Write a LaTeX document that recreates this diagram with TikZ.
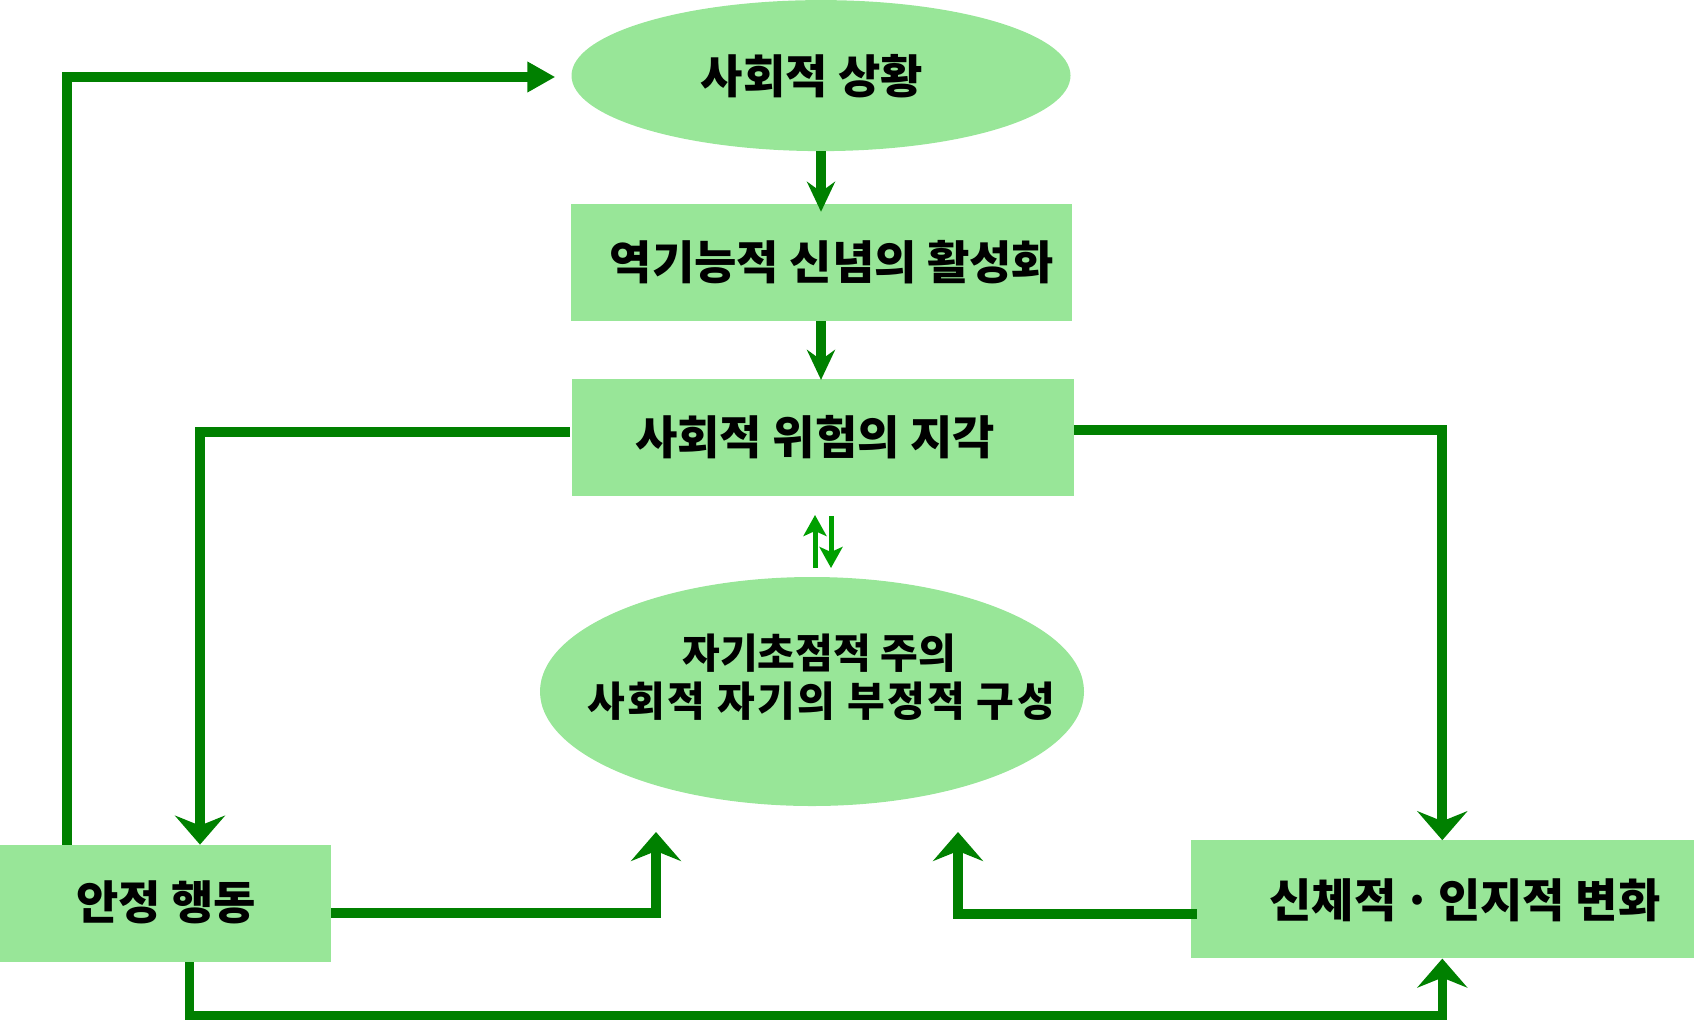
\documentclass[tikz,border=0pt]{standalone}
\usepackage{fontspec}
\setmainfont{Noto Sans CJK KR}
\usetikzlibrary{arrows.meta,shapes.geometric}
\definecolor{lg}{RGB}{152,230,152}
\definecolor{dg}{RGB}{0,128,0}
\definecolor{mg}{RGB}{0,160,0}
\tikzset{
  boxshape/.style={rectangle,fill=lg,draw=none,inner sep=0pt},
  ellshape/.style={ellipse,fill=lg,draw=none,inner sep=0pt},
  lbl/.style={inner sep=0pt,font=\fontsize{46}{54}\selectfont\bfseries},
  lbls/.style={inner sep=0pt,font=\fontsize{41}{48}\selectfont\bfseries},
  conn/.style={draw=dg,line width=10pt},
  bigtip/.style={-{Stealth[length=29pt,width=50pt,inset=10pt]}},
  smalltip/.style={-{Stealth[length=30pt,width=28pt,inset=10pt]}},
  tritip/.style={-{Triangle[length=28pt,width=29pt]}},
  dbl/.style={draw=mg,line width=5pt,-{Stealth[length=21pt,width=23pt,inset=5pt]}}
}
\begin{document}
\begin{tikzpicture}[x=1pt,y=-1pt]
\useasboundingbox (0,0) rectangle (1694,1021);
% shapes
\node[ellshape,minimum width=499pt,minimum height=151pt] (A) at (821,75.6) {};
\node[boxshape,minimum width=501pt,minimum height=117pt] (B) at (821,262.5) {};
\node[boxshape,minimum width=502pt,minimum height=117pt] (C) at (822.7,437.6) {};
\node[ellshape,minimum width=544pt,minimum height=229pt] (D) at (812,691.5) {};
\node[boxshape,minimum width=331pt,minimum height=117pt] (E) at (165.3,903.3) {};
\node[boxshape,minimum width=503pt,minimum height=118pt] (F) at (1442.3,899.4) {};
% texts
\node[lbl] (tA) at (812,76) {사회적 상황};
\node[lbl] (tB) at (832,262) {역기능적 신념의 활성화};
\node[lbl] (tC) at (815,437) {사회적 위험의 지각};
\node[lbls] (tD1) at (819,653) {자기초점적 주의};
\node[inner sep=0pt,font=\fontsize{41}{48}\selectfont\bfseries\addfontfeature{LetterSpace=6}] (tD2) at (821,701) {사회적 자기의 부정적 구성};
\node[lbl] (tE) at (166,902) {안정 행동};
\node[lbl] (tF) at (1465,900) {신체적\hspace{0.15em}·\hspace{0.15em}인지적 변화};
% helper coordinates
\coordinate (p6) at (656,832);
\coordinate (p7) at (958,832);
\coordinate (e8) at (189,1015.6);
\coordinate (u1) at (815,568);
\coordinate (u2) at (815,515);
\coordinate (d1) at (831,516);
\coordinate (d2) at (831,568);
% connectors
\draw[conn,tritip] ([xshift=-98.3pt]E.north) |- ([xshift=-16pt,yshift=-1.4pt]A.west);
\draw[conn,smalltip] (A.south) -- ([yshift=-8pt]B.north);
\draw[conn,smalltip] (B.south) -- ([yshift=-1pt]B.south |- C.north);
\draw[conn,bigtip] ([xshift=-2pt,yshift=5.6pt]C.west) -| ([xshift=34.7pt]E.north);
\draw[conn,bigtip] ([yshift=7.6pt]C.east) -| (F.north);
\draw[conn,bigtip] ([yshift=-9.7pt]E.east) -| (p6);
\draw[conn,bigtip] ([yshift=-14.6pt,xshift=6pt]F.west) -| (p7);
\draw[conn,line width=9pt,bigtip] ([xshift=23.7pt]E.south) -- (e8) -| (F.south);
\draw[dbl] (u1) -- (u2);
\draw[dbl] (d1) -- (d2);
\end{tikzpicture}
\end{document}
